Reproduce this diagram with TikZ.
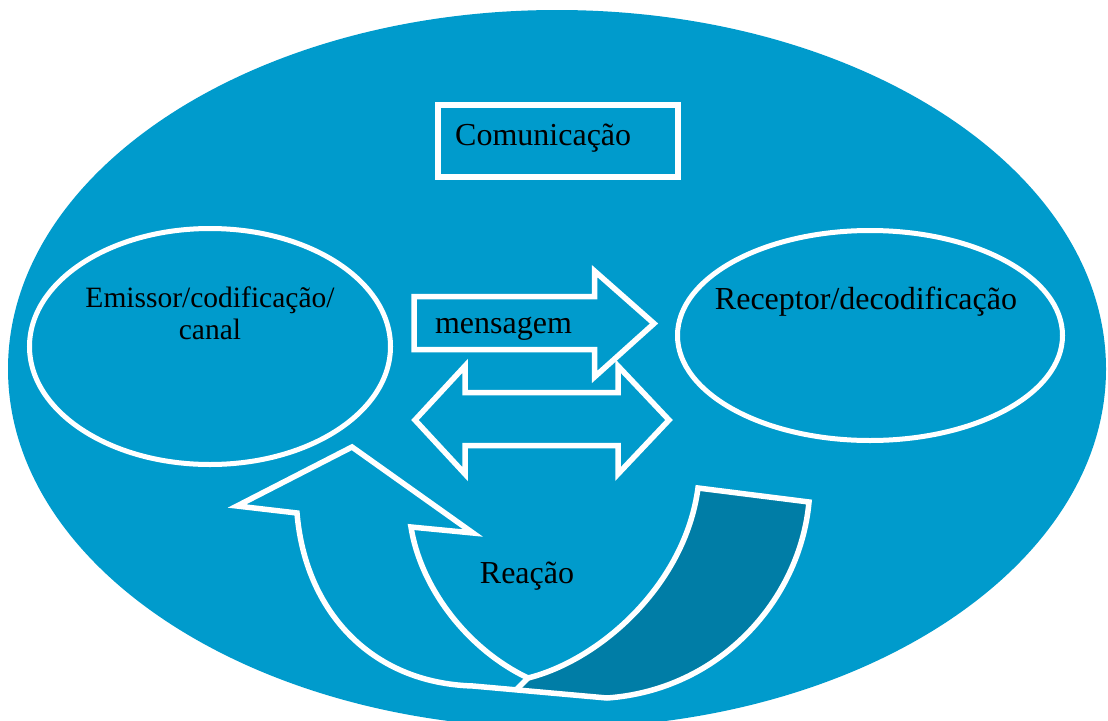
\documentclass[tikz,border=0pt]{standalone}
\usepackage{fontspec}
\setmainfont{Liberation Serif}
\usetikzlibrary{shapes.geometric,calc}
\definecolor{azul}{RGB}{0,155,204}
\definecolor{azulescuro}{RGB}{0,125,166}
\tikzset{
  bolha/.style={ellipse, draw=white, line width=5pt, fill=azul, inner sep=0pt},
  caixa/.style={rectangle, draw=white, line width=6.5pt, inner sep=0pt},
  contorno/.style={draw=white, line width=5.5pt},
  rotulo/.style={font=\fontsize{32}{32}\selectfont, text=black, inner sep=0pt}
}

\begin{document}
\begin{tikzpicture}[x=1pt, y=-1pt]
  \useasboundingbox (0,0) rectangle (1108,720);
  % background
  \fill[azul] (557,369) ellipse [x radius=549, y radius=359];
  % title
  \node[caixa, minimum width=240, minimum height=72] (titulo) at (558,141) {};
  \node[rotulo, anchor=base west] (comunicacao) at (455,145) {Comunicação};
  % the two sides
  \node[bolha, minimum width=361, minimum height=236] (emissor) at (210,346.5) {};
  \node[bolha, minimum width=385, minimum height=210] (receptor) at (870,335.5) {};
  \node[rotulo, font=\fontsize{29.5}{32}\selectfont, anchor=base, align=center] (txtemissor)
    at ($(emissor.center)+(0,-7.5)$) {Emissor/codificação/\\canal};
  \node[rotulo, anchor=base] (txtreceptor) at ($(receptor.center)+(-4,-26.5)$) {Receptor/decodificação};
  % message arrow
  \draw[contorno] (414,296.5) -- (594.5,296.5) -- (594.5,271) -- (654,323.5) -- (594.5,377) -- (594.5,349.5) -- (414,349.5) -- cycle;
  \node[rotulo, anchor=base] (mensagem) at (503.5,333) {mensagem};
  % two-way arrow
  \draw[contorno] (415,420) -- (465,366) -- (465,392.5) -- (618,392.5) -- (618,366) -- (669,420) -- (618,474) -- (618,445.5) -- (465,445.5) -- (465,474) -- cycle;
  % feedback arrow, shaded back first
  \fill[azulescuro] (528,678) -- (517,689) -- (607,698) .. controls (720,690) and (800,600) .. (809,502)
    -- (698,488) .. controls (685,585) and (600,660) .. (528,678) -- cycle;
  \draw[contorno] (297,513) .. controls (305,610) and (370,683) .. (473,686) -- (607,698)
    .. controls (720,690) and (800,600) .. (809,502) -- (698,488)
    .. controls (685,585) and (600,660) .. (528,678)
    .. controls (465,648) and (420,585) .. (411,527) -- (473,533) -- (352,447) -- (237,506) -- cycle;
  \draw[contorno] (528,678) -- (517,689);
  \node[rotulo, anchor=base] (reacao) at (527,583) {Reação};
\end{tikzpicture}
\end{document}
